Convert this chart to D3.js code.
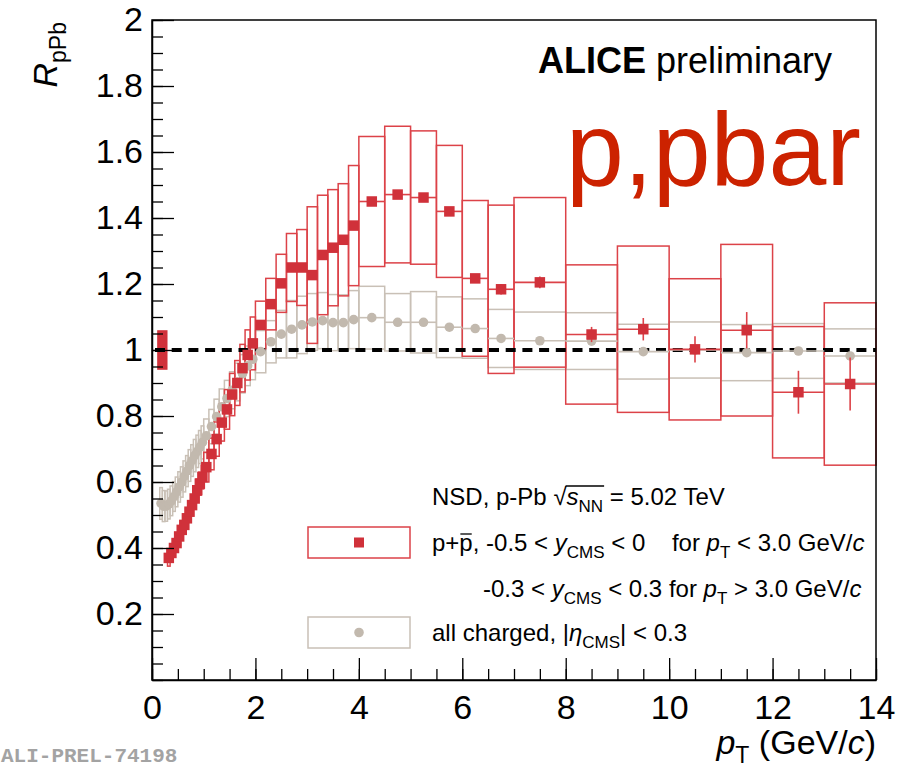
<!DOCTYPE html>
<html><head><meta charset="utf-8">
<script src="https://cdn.jsdelivr.net/npm/d3@7"></script>
<style>
body{margin:0;background:#fff}
svg{display:block}
</style>
</head><body>
<svg id="c" width="919" height="769" font-family="'Liberation Sans',Arial,Helvetica,sans-serif"></svg>
<script>
// ---------- data ----------
const protonEdges = [0.3,0.35,0.4,0.45,0.5,0.55,0.6,0.65,0.7,0.75,0.8,0.85,0.9,0.95,
  1.0,1.1,1.2,1.3,1.4,1.5,1.6,1.7,1.8,1.9,
  2.0,2.2,2.4,2.6,2.8,3.0,3.2,3.4,3.6,3.8,
  4.0,4.5,5.0,5.5,6.0,6.5,7.0,8.0,9,10,11,12,13,14];
const protonR = [0.37,0.385,0.40,0.415,0.435,0.455,0.47,0.49,0.51,0.53,0.55,0.575,0.595,0.615,
  0.645,0.685,0.73,0.78,0.82,0.865,0.90,0.945,0.985,1.02,
  1.076,1.139,1.202,1.25,1.25,1.227,1.288,1.31,1.334,1.377,
  1.45,1.471,1.462,1.42,1.217,1.184,1.205,
  1.047,1.063,1.002,1.060,0.872,0.897];
const protonStat = [0.004,0.004,0.004,0.004,0.004,0.004,0.004,0.004,0.004,0.004,0.004,0.004,0.004,0.004,
  0.005,0.005,0.005,0.005,0.005,0.005,0.005,0.005,0.005,0.005,
  0.007,0.007,0.007,0.007,0.007,0.007,0.007,0.007,0.007,0.007,
  0.008,0.009,0.010,0.011,0.013,0.016,0.018,
  0.023,0.034,0.040,0.055,0.065,0.080];
const protonSys = [0.025,0.025,0.025,0.025,0.026,0.027,0.028,0.029,0.030,0.031,0.032,0.034,0.035,0.036,
  0.045,0.048,0.052,0.056,0.060,0.064,0.068,0.072,0.076,0.080,
  0.072,0.078,0.088,0.103,0.115,0.207,0.181,0.176,0.170,0.182,
  0.197,0.207,0.202,0.200,0.236,0.255,0.257,
  0.211,0.252,0.214,0.260,0.199,0.246];
const protonNormUnc = 0.06;          // normalisation uncertainty box at pT 0.1-0.3
const normBoxPt = [0.1, 0.3];

const chargedEdges = [0.15,0.2,0.25,0.3,0.35,0.4,0.45,0.5,0.55,0.6,0.65,0.7,0.75,0.8,0.85,0.9,0.95,
  1.0,1.1,1.2,1.3,1.4,1.5,1.6,1.7,1.8,1.9,
  2.0,2.2,2.4,2.6,2.8,3.0,3.2,3.4,3.6,3.8,
  4.0,4.5,5.0,5.5,6.0,6.5,7.0,8.0,9,10,11,12,13,14];
const chargedR = [0.535,0.527,0.527,0.533,0.543,0.556,0.57,0.585,0.60,0.617,0.633,0.65,0.665,0.68,0.693,0.706,0.72,
  0.74,0.768,0.798,0.828,0.853,0.878,0.903,0.928,0.952,0.972,
  0.995,1.025,1.048,1.063,1.076,1.085,1.089,1.083,1.083,1.092,
  1.098,1.084,1.084,1.069,1.065,1.035,1.028,
  1.027,0.995,1.0,0.992,0.997,0.982];
const chargedStat = [0.002,0.002,0.002,0.002,0.002,0.002,0.002,0.002,0.002,0.002,0.002,0.002,0.002,0.002,0.002,0.002,0.002,
  0.002,0.002,0.002,0.002,0.002,0.002,0.002,0.002,0.002,0.002,
  0.003,0.003,0.003,0.003,0.003,0.003,0.003,0.003,0.003,0.003,
  0.003,0.003,0.003,0.003,0.003,0.003,0.003,
  0.004,0.005,0.006,0.007,0.008,0.010];
const chargedSys = [0.048,0.047,0.046,0.045,0.045,0.045,0.045,0.046,0.046,0.047,0.047,0.048,0.048,0.049,0.049,0.050,0.050,
  0.051,0.052,0.053,0.054,0.055,0.056,0.057,0.058,0.060,0.062,
  0.064,0.064,0.072,0.087,0.087,0.086,0.085,0.085,0.084,0.088,
  0.095,0.087,0.093,0.092,0.090,0.088,0.087,
  0.086,0.083,0.085,0.085,0.083,0.082];

const xTicks = [0,2,4,6,8,10,12,14];
const xMinor = d3.range(0, 14.001, 0.5);
const yTicks = [0.2,0.4,0.6,0.8,1,1.2,1.4,1.6,1.8,2];
const yMinor = d3.range(0, 2.001, 0.05);
const refLine = 1;

// ---------- colours ----------
const RED = "#d0313a", RED_BOX = "#dc4248", GREY = "#c2b9ae", GREY_BOX = "#c9c0b6";

// ---------- scales ----------
const svg = d3.select("#c");
svg.append("rect").attr("width",919).attr("height",769).attr("fill","#fff");
const x = d3.scaleLinear().domain([0,14]).range([152,876]);
const y = d3.scaleLinear().domain([0,2]).range([680,20]);

const bins = (edges, vals, stat, sys) => vals.map((v,i)=>({lo:edges[i],hi:edges[i+1],c:(edges[i]+edges[i+1])/2,v,s:stat[i],e:sys[i]}));
const pBins = bins(protonEdges, protonR, protonStat, protonSys);
const cBins = bins(chargedEdges, chargedR, chargedStat, chargedSys);

function sysBoxes(data, color){
  svg.append("g").selectAll("rect").data(data).join("rect")
    .attr("x",d=>x(d.lo)).attr("width",d=>x(d.hi)-x(d.lo))
    .attr("y",d=>y(d.v+d.e)).attr("height",d=>y(d.v-d.e)-y(d.v+d.e))
    .attr("fill","none").attr("stroke",color).attr("stroke-width",1.5);
}
function errBars(data, color){
  const g = svg.append("g").attr("stroke",color).attr("stroke-width",1.6);
  g.selectAll("line.h").data(data).join("line").attr("class","h")
    .attr("x1",d=>x(d.lo)).attr("x2",d=>x(d.hi)).attr("y1",d=>y(d.v)).attr("y2",d=>y(d.v));
  g.selectAll("line.v").data(data).join("line").attr("class","v")
    .attr("x1",d=>x(d.c)).attr("x2",d=>x(d.c)).attr("y1",d=>y(d.v-d.s)).attr("y2",d=>y(d.v+d.s));
}

// systematic boxes
sysBoxes(cBins, GREY_BOX);
sysBoxes(pBins, RED_BOX);

// normalisation box
svg.append("rect").attr("x",x(normBoxPt[0])).attr("width",x(normBoxPt[1])-x(normBoxPt[0]))
  .attr("y",y(refLine+protonNormUnc)).attr("height",y(refLine-protonNormUnc)-y(refLine+protonNormUnc))
  .attr("fill",RED);

// reference dashed line
svg.append("line").attr("x1",x(0)).attr("x2",x(14)).attr("y1",y(refLine)).attr("y2",y(refLine))
  .attr("stroke","#000").attr("stroke-width",4).attr("stroke-dasharray","10,6.7").attr("stroke-dashoffset",13.7);

// charged points
errBars(cBins, GREY_BOX);
svg.append("g").selectAll("circle").data(cBins).join("circle")
  .attr("cx",d=>x(d.c)).attr("cy",d=>y(d.v)).attr("r",4.8).attr("fill",GREY);

// proton points
errBars(pBins, RED_BOX);
svg.append("g").selectAll("rect").data(pBins).join("rect")
  .attr("x",d=>x(d.c)-5.25).attr("y",d=>y(d.v)-5.25).attr("width",10.5).attr("height",10.5).attr("fill",RED);

// ---------- axes ----------
const FS = 34;
const xAx = svg.append("g").attr("transform",`translate(0,${y(0)})`)
  .call(d3.axisBottom(x).tickValues(xTicks).tickSize(-22).tickSizeOuter(0).tickPadding(15).tickFormat(d3.format("d")));
svg.append("g").attr("transform",`translate(0,${y(0)})`)
  .call(d3.axisBottom(x).tickValues(xMinor).tickSize(-11).tickSizeOuter(0).tickFormat(""))
  .call(g=>g.select(".domain").remove());
const yAx = svg.append("g").attr("transform",`translate(${x(0)},0)`)
  .call(d3.axisLeft(y).tickValues(yTicks).tickSize(-22).tickSizeOuter(0).tickPadding(9).tickFormat(d=>String(+d.toFixed(1))));
svg.append("g").attr("transform",`translate(${x(0)},0)`)
  .call(d3.axisLeft(y).tickValues(yMinor).tickSize(-11).tickSizeOuter(0).tickFormat(""))
  .call(g=>g.select(".domain").remove());
svg.selectAll(".tick line").attr("stroke","#000").attr("stroke-width",1.3);
[xAx,yAx].forEach(a=>a.selectAll("text").attr("font-size",FS).attr("fill","#000")
  .attr("font-family","'Liberation Sans',Arial,sans-serif"));
svg.selectAll(".domain").attr("stroke","#000").attr("stroke-width",1.5);
// frame
svg.append("rect").attr("x",x(0)).attr("y",y(2)).attr("width",x(14)-x(0)).attr("height",y(0)-y(2))
  .attr("fill","none").attr("stroke","#000").attr("stroke-width",1.5);

// axis titles
const xt = svg.append("text").attr("x",876).attr("y",754).attr("text-anchor","end").attr("font-size",FS);
xt.append("tspan").attr("font-style","italic").text("p");
xt.append("tspan").attr("font-size",23).attr("dy",9).text("T");
xt.append("tspan").attr("dy",-9).text(" (GeV/");
xt.append("tspan").attr("font-style","italic").text("c");
xt.append("tspan").text(")");

const yt = svg.append("text").attr("transform","translate(57,22) rotate(-90)").attr("text-anchor","end").attr("font-size",FS);
yt.append("tspan").attr("font-style","italic").text("R");
yt.append("tspan").attr("font-size",23).attr("dy",9).text("pPb");

// ---------- labels ----------
const al = svg.append("text").attr("x",538).attr("y",73).attr("font-size",36).attr("fill","#000");
al.append("tspan").attr("font-weight","bold").text("ALICE");
al.append("tspan").text(" preliminary");

svg.append("text").attr("x",566).attr("y",185).attr("font-size",104).attr("fill","#cc2200").text("p,pbar");

svg.append("text").attr("x",1).attr("y",762).attr("font-family","'Liberation Mono','Courier New',monospace")
  .attr("font-weight","bold").attr("font-size",21).attr("fill","#a3a3a3").text("ALI-PREL-74198");

// ---------- legend ----------
const LFS = 24, SFS = 17;
const t0 = svg.append("text").attr("x",432).attr("y",505).attr("font-size",LFS);
t0.append("tspan").text("NSD, p-Pb ");
t0.append("tspan").text("\u221A");
t0.append("tspan").attr("font-style","italic").text("s");
t0.append("tspan").attr("font-size",SFS).attr("dy",7).text("NN");
t0.append("tspan").attr("dy",-7).text(" = 5.02 TeV");
{
  const n = t0.node();
  const a = n.getEndPositionOfChar(10).x, b = n.getEndPositionOfChar(13).x;
  svg.append("line").attr("x1",a-1).attr("x2",b+1).attr("y1",505-19).attr("y2",505-19)
    .attr("stroke","#000").attr("stroke-width",1.3);
}

svg.append("rect").attr("x",308).attr("y",527).attr("width",102).attr("height",31)
  .attr("fill","none").attr("stroke",RED_BOX).attr("stroke-width",1.5);
svg.append("rect").attr("x",354).attr("y",537.5).attr("width",10).attr("height",10).attr("fill",RED);
const t1 = svg.append("text").attr("x",432).attr("y",551).attr("font-size",LFS).attr("xml:space","preserve");
t1.append("tspan").text("p+p, -0.5 < ");
t1.append("tspan").attr("font-style","italic").text("y");
t1.append("tspan").attr("font-size",SFS).attr("dy",7).text("CMS");
t1.append("tspan").attr("dy",-7).text(" < 0    for ");
t1.append("tspan").attr("font-style","italic").text("p");
t1.append("tspan").attr("font-size",SFS).attr("dy",7).text("T");
t1.append("tspan").attr("dy",-7).text(" < 3.0 GeV/");
t1.append("tspan").attr("font-style","italic").text("c");
{
  const n = t1.node();
  const a = n.getStartPositionOfChar(2).x, b = n.getEndPositionOfChar(2).x;
  svg.append("line").attr("x1",a+1).attr("x2",b-1).attr("y1",551-17).attr("y2",551-17)
    .attr("stroke","#000").attr("stroke-width",1.3);
}
const t2 = svg.append("text").attr("x",483).attr("y",597).attr("font-size",LFS).attr("xml:space","preserve");
t2.append("tspan").text("-0.3 < ");
t2.append("tspan").attr("font-style","italic").text("y");
t2.append("tspan").attr("font-size",SFS).attr("dy",7).text("CMS");
t2.append("tspan").attr("dy",-7).text(" < 0.3 for ");
t2.append("tspan").attr("font-style","italic").text("p");
t2.append("tspan").attr("font-size",SFS).attr("dy",7).text("T");
t2.append("tspan").attr("dy",-7).text(" > 3.0 GeV/");
t2.append("tspan").attr("font-style","italic").text("c");

svg.append("rect").attr("x",308).attr("y",617).attr("width",102).attr("height",31)
  .attr("fill","none").attr("stroke",GREY_BOX).attr("stroke-width",1.5);
svg.append("circle").attr("cx",359).attr("cy",632.5).attr("r",4.8).attr("fill",GREY);
const t3 = svg.append("text").attr("x",432).attr("y",641).attr("font-size",LFS);
t3.append("tspan").text("all charged, |");
t3.append("tspan").attr("font-style","italic").text("\u03B7");
t3.append("tspan").attr("font-size",SFS).attr("dy",7).text("CMS");
t3.append("tspan").attr("dy",-7).text("| < 0.3");
</script>
</body></html>
